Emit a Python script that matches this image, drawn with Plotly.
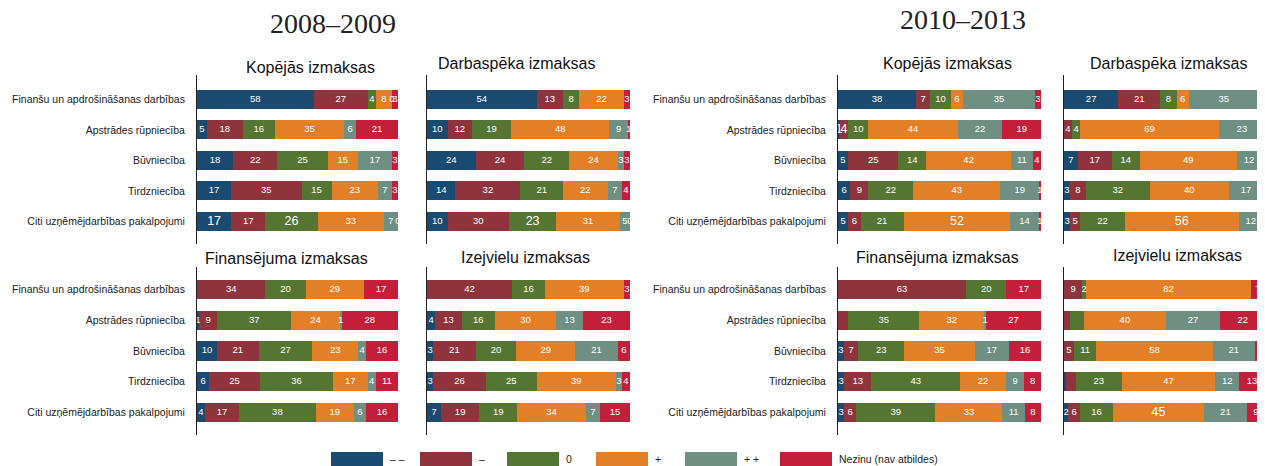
import plotly.graph_objects as go

# ---------------- data ----------------
categories = [
    "Finanšu un apdrošināšanas darbības",
    "Apstrādes rūpniecība",
    "Būvniecība",
    "Tirdzniecība",
    "Citi uzņēmējdarbības pakalpojumi",
]
series_names = ["– –", "–", "0", "+", "+ +", "Nezinu (nav atbildes)"]
series_colors = ["#1b4a71", "#8f343c", "#557533", "#e27f27", "#6e8f82", "#c41f3a"]

period_titles = ["2008–2009", "2010–2013"]

# rows = categories, columns = series (None = no answer shown)
kopejas_2008 = [[58, 27, 4, 8, 0, 3],
                [5, 18, 16, 35, 6, 21],
                [18, 22, 25, 15, 17, 3],
                [17, 35, 15, 23, 7, 3],
                [17, 17, 26, 33, 7, 0]]
darbaspeka_2008 = [[54, 13, 8, 22, None, 3],
                   [10, 12, 19, 48, 9, 1],
                   [24, 24, 22, 24, 3, 3],
                   [14, 32, 21, 22, 7, 4],
                   [10, 30, 23, 31, 5, 0]]
finansejuma_2008 = [[None, 34, 20, 29, None, 17],
                    [1, 9, 37, 24, 1, 28],
                    [10, 21, 27, 23, 4, 16],
                    [6, 25, 36, 17, 4, 11],
                    [4, 17, 38, 19, 6, 16]]
izejvielu_2008 = [[None, 42, 16, 39, None, 3],
                  [4, 13, 16, 30, 13, 23],
                  [3, 21, 20, 29, 21, 6],
                  [3, 26, 25, 39, 3, 4],
                  [7, 19, 19, 34, 7, 15]]
kopejas_2010 = [[38, 7, 10, 6, 35, 3],
                [1, 4, 10, 44, 22, 19],
                [5, 25, 14, 42, 11, 4],
                [6, 9, 22, 43, 19, 1],
                [5, 6, 21, 52, 14, 1]]
darbaspeka_2010 = [[27, 21, 8, 6, 35, 3],
                   [None, 4, 4, 69, 23, None],
                   [7, 17, 14, 49, 12, 2],
                   [3, 8, 32, 40, 17, 1],
                   [3, 5, 22, 56, 12, 1]]
finansejuma_2010 = [[None, 63, 20, None, None, 17],
                    [None, 5, 35, 32, 1, 27],
                    [3, 7, 23, 35, 17, 16],
                    [3, 13, 43, 22, 9, 8],
                    [3, 6, 39, 33, 11, 8]]
izejvielu_2010 = [[None, 9, 2, 82, None, 7],
                  [None, 3, 7, 40, 27, 22],
                  [None, 5, 11, 58, 21, 5],
                  [1, 5, 23, 47, 12, 13],
                  [2, 6, 16, 45, 21, 9]]

# labels not printed in the original (panel, row, series)
hidden_labels = {("fin10", 1, 1), ("izej10", 1, 1), ("izej10", 1, 2),
                 ("izej10", 3, 0), ("izej10", 3, 1)}
# labels printed larger in the original
big_labels = {("kop08", 4, 0), ("kop08", 4, 2), ("darb08", 4, 2),
              ("kop10", 1, 0), ("kop10", 1, 1), ("kop10", 4, 3),
              ("darb10", 4, 3), ("izej10", 4, 3)}

# ---------------- layout helpers ----------------
OFF = 8                     # default page margin around the plot div
W, H = 1265 - OFF, 466 - OFF
FONT = "Liberation Sans, Arial, sans-serif"
SERIF = "Liberation Serif, Times New Roman, serif"


def px_x(p):
    return (p - OFF) / W


def px_y(p):
    return 1 - (p - OFF) / H


col_px = [(197, 398), (427, 630), (838, 1041), (1064, 1266)]
row_px = [(75, 244), (267, 435)]
row_range = [[4.74, -0.80], [4.73, -0.73]]

panels = [
    # key, data, title, col, row, title x, title y, show category labels
    ("kop08", kopejas_2008, "Kopējās izmaksas", 0, 0, 310, 67, True),
    ("darb08", darbaspeka_2008, "Darbaspēka izmaksas", 1, 0, 516, 64, False),
    ("fin08", finansejuma_2008, "Finansējuma izmaksas", 0, 1, 286, 258, True),
    ("izej08", izejvielu_2008, "Izejvielu izmaksas", 1, 1, 525, 257, False),
    ("kop10", kopejas_2010, "Kopējās izmaksas", 2, 0, 947, 63, True),
    ("darb10", darbaspeka_2010, "Darbaspēka izmaksas", 3, 0, 1168, 63, False),
    ("fin10", finansejuma_2010, "Finansējuma izmaksas", 2, 1, 937, 257, True),
    ("izej10", izejvielu_2010, "Izejvielu izmaksas", 3, 1, 1177, 255, False),
]

fig = go.Figure()
annotations = []
layout_axes = {}

for i, (key, data, title, col, row, tx, ty, show_lbl) in enumerate(panels, start=1):
    xa, ya = f"x{i}", f"y{i}"
    # normalise each row so that the stacked bar spans the full 0..100 scale
    widths = []
    for r in data:
        tot = sum(v for v in r if v is not None)
        widths.append([None if v is None else v * 100.0 / tot for v in r])

    for s, name in enumerate(series_names):
        fig.add_trace(go.Bar(
            x=[widths[r][s] for r in range(len(categories))],
            y=categories,
            orientation="h",
            name=name,
            marker=dict(color=series_colors[s], line=dict(width=0)),
            width=0.62,
            xaxis=xa, yaxis=ya,
            showlegend=False,
            hoverinfo="skip",
        ))

    # value labels, centred in each segment
    lx, ly, lt, ls = [], [], [], []
    for r in range(len(categories)):
        cum = 0.0
        for s in range(len(series_names)):
            v = data[r][s]
            w = widths[r][s]
            if v is None:
                continue
            mid = cum + w / 2.0
            cum += w
            if (key, r, s) in hidden_labels:
                continue
            lx.append(mid)
            ly.append(categories[r])
            lt.append(str(v))
            ls.append(12.5 if (key, r, s) in big_labels else 9.5)
    fig.add_trace(go.Scatter(
        x=lx, y=ly, text=lt, mode="text",
        textfont=dict(color="white", size=ls, family=FONT),
        textposition="middle center",
        xaxis=xa, yaxis=ya, showlegend=False, hoverinfo="skip",
        cliponaxis=False,
    ))

    x0, x1 = col_px[col]
    y0, y1 = row_px[row]
    layout_axes[f"xaxis{i}"] = dict(
        domain=[px_x(x0), min(1.0, px_x(x1))], anchor=ya, range=[0, 100],
        showgrid=False, zeroline=False, showline=False,
        showticklabels=False, ticks="", fixedrange=True,
    )
    layout_axes[f"yaxis{i}"] = dict(
        domain=[px_y(y1), px_y(y0)], anchor=xa, type="category",
        categoryorder="array", categoryarray=categories,
        range=row_range[row],
        showgrid=False, zeroline=False, showline=True,
        linecolor="#222222", linewidth=1, ticks="",
        showticklabels=show_lbl, ticklabelstandoff=9,
        tickfont=dict(family=FONT, size=10.5, color="#222222"),
        fixedrange=True,
    )
    annotations.append(dict(
        text=title, x=px_x(tx), y=px_y(ty), xref="paper", yref="paper",
        xanchor="center", yanchor="middle", showarrow=False,
        font=dict(family=FONT, size=16, color="#111111"),
    ))

# period titles
annotations.append(dict(text=period_titles[0], x=px_x(333), y=px_y(24),
                        xref="paper", yref="paper", xanchor="center",
                        yanchor="middle", showarrow=False,
                        font=dict(family=SERIF, size=28, color="#222222")))
annotations.append(dict(text=period_titles[1], x=px_x(963), y=px_y(20),
                        xref="paper", yref="paper", xanchor="center",
                        yanchor="middle", showarrow=False,
                        font=dict(family=SERIF, size=28, color="#222222")))

# custom legend with wide swatches
shapes = []
legend_x = [331, 420, 507, 596, 685, 780]
for s, name in enumerate(series_names):
    lx0 = legend_x[s]
    shapes.append(dict(type="rect", xref="paper", yref="paper",
                       x0=px_x(lx0), x1=px_x(lx0 + 52),
                       y0=px_y(467), y1=px_y(452),
                       fillcolor=series_colors[s], line=dict(width=0)))
    annotations.append(dict(text=name, x=px_x(lx0 + 57), y=px_y(459),
                            xref="paper", yref="paper", xanchor="left",
                            yanchor="middle", showarrow=False,
                            font=dict(family=FONT, size=10.5, color="#222222")))

fig.update_layout(
    width=W, height=H, autosize=False,
    margin=dict(l=0, r=0, t=0, b=0),
    paper_bgcolor="white", plot_bgcolor="white",
    barmode="stack", bargap=0.38,
    annotations=annotations, shapes=shapes,
    showlegend=False,
    **layout_axes,
)

fig.write_html("out.html")
